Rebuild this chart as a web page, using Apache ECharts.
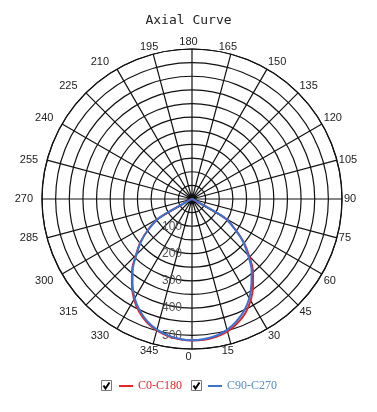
<!DOCTYPE html>
<html>
<head>
<meta charset="utf-8">
<script src="https://cdn.jsdelivr.net/npm/echarts@6/dist/echarts.min.js"></script>
<style>
  html, body { margin: 0; padding: 0; background: #fff; }
  #chart { width: 377px; height: 412px; }
</style>
</head>
<body>
<div id="chart"></div>
<script>
// Angles (degrees, 0 = straight down) and intensities
var angles = [270, 275, 280, 285, 290, 295, 300, 305, 310, 315, 320, 325, 330, 335, 340, 345, 350, 355,
              0, 5, 10, 15, 20, 25, 30, 35, 40, 45, 50, 55, 60, 65, 70, 75, 80, 85, 90];
var c0c180 = [0, 0, 0, 2, 4, 8, 142, 196, 247, 290, 342, 384, 425, 457, 482, 499, 510, 516,
              519, 518, 513, 503, 485, 462, 430, 390, 348, 297, 248, 193, 140, 8, 4, 2, 0, 0, 0];
var c90c270 = [0, 0, 0, 2, 4, 8, 140, 195, 245, 288, 338, 380, 420, 452, 478, 496, 508, 515,
               518, 515, 509, 497, 477, 452, 420, 380, 340, 290, 245, 190, 140, 8, 4, 2, 0, 0, 0];
var seriesNames = ['C0-C180', 'C90-C270'];
var seriesColors = ['#e4232b', '#3a74d2'];
var legendTextColors = ['#e4232b', '#5a8cc6'];

function pairs(vals) {
    var out = [];
    for (var i = 0; i < angles.length; i++) {
        out.push([vals[i], angles[i]]);
    }
    return out;
}

var chart = echarts.init(document.getElementById('chart'));

// little checkbox next to each legend entry
function checkbox(x, y) {
    return {
        type: 'group',
        left: x, top: y,
        children: [
            { type: 'rect', shape: { x: 0, y: 0, width: 10, height: 10 },
              style: { fill: '#fff', stroke: '#777', lineWidth: 1 } },
            { type: 'polyline', shape: { points: [[2, 5], [4, 8], [8, 2]] },
              style: { fill: null, stroke: '#000', lineWidth: 2 } }
        ]
    };
}

var gridLine = { color: '#111', width: 1.2 };

var option = {
    animation: false,
    backgroundColor: '#fff',
    title: {
        text: 'Axial Curve',
        left: 'center',
        top: 9,
        textStyle: { fontFamily: 'DejaVu Sans Mono', fontSize: 13, fontWeight: 'normal', color: '#222' }
    },
    polar: { center: [192, 199], radius: 150 },
    angleAxis: {
        type: 'value',
        min: 0, max: 360, interval: 15,
        startAngle: 270,
        clockwise: false,
        axisLine: { lineStyle: gridLine },
        axisTick: { show: false },
        axisLabel: {
            margin: 2,
            padding: [0, 7, 0, 0],
            color: '#222',
            fontFamily: 'Liberation Sans',
            fontSize: 11,
            formatter: function (v) { return v === 360 ? '' : v; }
        },
        splitLine: { show: true, lineStyle: gridLine }
    },
    radiusAxis: {
        type: 'value',
        min: 0, max: 550, interval: 50,
        axisLine: { show: false },
        axisTick: { show: false },
        axisLabel: {
            color: '#555',
            fontFamily: 'Liberation Sans',
            fontSize: 12,
            margin: -10,
            align: 'right',
            formatter: function (v) { return (v > 0 && v < 550 && v % 100 === 0) ? v : ''; }
        },
        splitLine: { show: true, lineStyle: gridLine }
    },
    legend: {
        left: 119, top: 380,
        padding: 0,
        itemWidth: 14, itemHeight: 2, itemGap: 26,
        icon: 'rect',
        textStyle: { fontFamily: 'Liberation Serif', fontSize: 12 },
        data: [
            { name: seriesNames[0], textStyle: { color: legendTextColors[0] } },
            { name: seriesNames[1], textStyle: { color: legendTextColors[1] } }
        ]
    },
    graphic: [checkbox(101, 380), checkbox(191, 380)],
    series: [
        {
            name: seriesNames[0], type: 'line', coordinateSystem: 'polar',
            data: pairs(c0c180), showSymbol: false, smooth: 0.3,
            lineStyle: { color: seriesColors[0], width: 2 }, itemStyle: { color: seriesColors[0] }
        },
        {
            name: seriesNames[1], type: 'line', coordinateSystem: 'polar',
            data: pairs(c90c270), showSymbol: false, smooth: 0.3,
            lineStyle: { color: seriesColors[1], width: 2 }, itemStyle: { color: seriesColors[1] }
        }
    ]
};
chart.setOption(option);
</script>
</body>
</html>
